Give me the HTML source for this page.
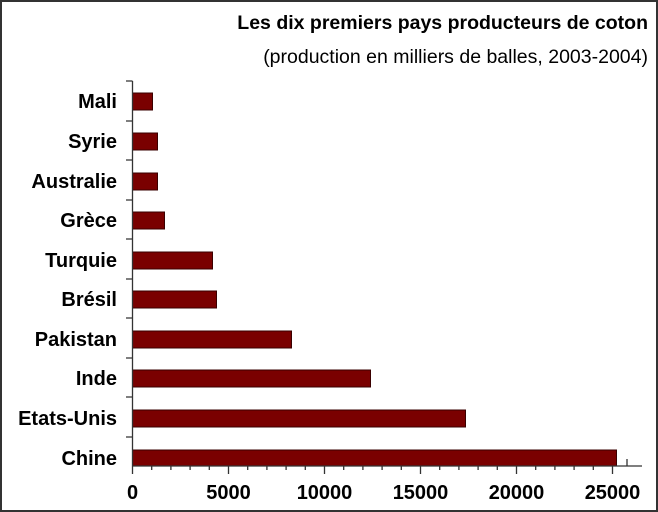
<!DOCTYPE html>
<html><head><meta charset="utf-8"><style>
html,body{margin:0;padding:0;background:#fff;}
svg{display:block;}
text{font-family:"Liberation Sans",Arial,sans-serif;fill:#000;}
</style></head><body>
<svg width="658" height="512" viewBox="0 0 658 512">
<rect x="1" y="1" width="656" height="510" fill="#fff" stroke="#333" stroke-width="2"/>
<text x="648" y="29" text-anchor="end" font-size="19.5" font-weight="bold">Les dix premiers pays producteurs de coton</text>
<text x="648" y="63" text-anchor="end" font-size="19.5">(production en milliers de balles, 2003-2004)</text>
<g fill="#7a0000" stroke="#3a0000" stroke-width="1">
<rect x="132.5" y="93" width="20" height="17"/>
<rect x="132.5" y="133" width="25" height="17"/>
<rect x="132.5" y="173" width="25" height="17"/>
<rect x="132.5" y="212" width="32" height="17"/>
<rect x="132.5" y="252" width="80" height="17"/>
<rect x="132.5" y="291" width="84" height="17"/>
<rect x="132.5" y="331" width="159" height="17"/>
<rect x="132.5" y="370" width="238" height="17"/>
<rect x="132.5" y="410" width="333" height="17"/>
<rect x="132.5" y="450" width="484" height="16"/>
</g>
<g stroke="#333" stroke-width="1.3" fill="none">
<line x1="132.5" y1="81" x2="132.5" y2="474"/>
<line x1="132.5" y1="466" x2="642" y2="466"/>
<path d="M126 81H132.5M126 121H132.5M126 160H132.5M126 200H132.5M126 239H132.5M126 279H132.5M126 318H132.5M126 358H132.5M126 397H132.5M126 437H132.5"/>
<path d="M228.5 466V474M324.5 466V474M420.5 466V474M516.5 466V474M612.5 466V474M627 459V466"/>
<path d="M151.7 466V470M170.9 466V470M190.1 466V470M209.3 466V470M247.7 466V470M266.9 466V470M286.1 466V470M305.3 466V470M343.7 466V470M362.9 466V470M382.1 466V470M401.3 466V470M439.7 466V470M458.9 466V470M478.1 466V470M497.3 466V470M535.7 466V470M554.9 466V470M574.1 466V470M593.3 466V470"/>
</g>
<g font-size="20" font-weight="bold" text-anchor="end">
<text x="117" y="108">Mali</text>
<text x="117" y="148">Syrie</text>
<text x="117" y="188">Australie</text>
<text x="117" y="227">Grèce</text>
<text x="117" y="267">Turquie</text>
<text x="117" y="306">Brésil</text>
<text x="117" y="346">Pakistan</text>
<text x="117" y="385">Inde</text>
<text x="117" y="425">Etats-Unis</text>
<text x="117" y="465">Chine</text>
</g>
<g font-size="20" font-weight="bold" text-anchor="middle">
<text x="132.5" y="499">0</text>
<text x="228.5" y="499">5000</text>
<text x="324.5" y="499">10000</text>
<text x="420.5" y="499">15000</text>
<text x="516.5" y="499">20000</text>
<text x="612.5" y="499">25000</text>
</g>
</svg>
</body></html>
